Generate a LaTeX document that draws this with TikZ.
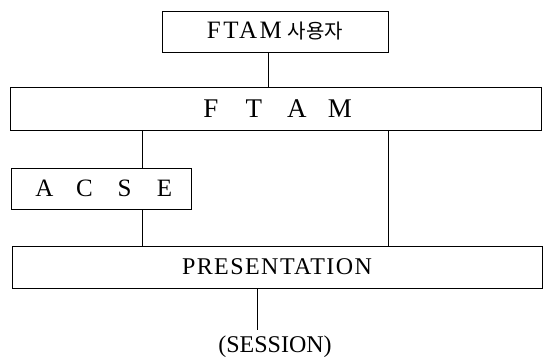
\documentclass[tikz,border=0pt]{standalone}
\usepackage{fontspec}
\setmainfont{Liberation Serif}
\newfontfamily\krfont{Noto Sans CJK KR}
\begin{document}
\begin{tikzpicture}[x=1pt,y=1pt,
  box/.style={draw, line width=0.8pt, inner sep=0pt, anchor=center},
  link/.style={line width=0.8pt}]
\useasboundingbox (0,0) rectangle (549,358);
\node[box, minimum width=226pt, minimum height=41pt] (user) at (275,326.5)
  {\fontsize{25}{29}\selectfont{\addfontfeature{LetterSpace=10}FTAM}\hspace{6pt}{\krfont\fontsize{20}{24}\selectfont 사용자}};
\node[box, minimum width=531pt, minimum height=43pt] (ftam) at (275.5,249.5)
  {\fontsize{27}{32}\selectfont\makebox[43pt]{F}\makebox[43pt]{T}\makebox[43pt]{A}\makebox[43pt]{M}\hspace{4pt}};
\node[box, minimum width=180pt, minimum height=41pt] (acse) at (101,169.5)
  {\fontsize{25}{30}\selectfont\hspace{7pt}\makebox[40pt]{A}\makebox[40pt]{C}\makebox[40pt]{S}\makebox[40pt]{E}};
\node[box, minimum width=530pt, minimum height=42pt] (pres) at (277,91)
  {\fontsize{24}{28}\selectfont\addfontfeature{LetterSpace=6}PRESENTATION};
\node[inner sep=0pt] (sess) at (275,11.5)
  {\fontsize{24}{28}\selectfont(SESSION)};
\coordinate (a) at (268,0);
\coordinate (b) at (142.5,0);
\coordinate (c) at (388,0);
\coordinate (s) at (257,28);
\draw[link] (user.south -| a) -- (ftam.north -| a);
\draw[link] (ftam.south -| b) -- (acse.north -| b);
\draw[link] (acse.south -| b) -- (pres.north -| b);
\draw[link] (ftam.south -| c) -- (pres.north -| c);
\draw[link] (pres.south -| s) -- (s);
\end{tikzpicture}
\end{document}
